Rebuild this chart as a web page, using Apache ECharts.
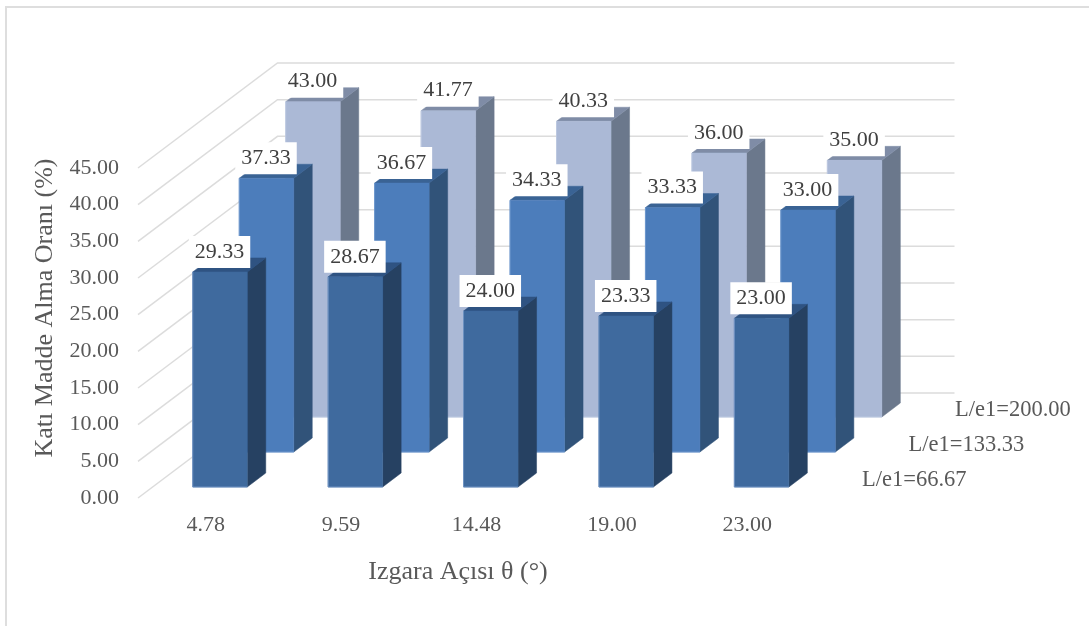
<!DOCTYPE html>
<html>
<head>
<meta charset="utf-8">
<style>html,body{margin:0;padding:0;background:#fff}#chart{width:1089px;height:626px}</style>
<script src="https://cdn.jsdelivr.net/npm/echarts@6/dist/echarts.min.js"></script>
</head>
<body>
<div id="chart"></div>
<script>
// Solid removal ratio by bar-screen angle, one row of columns per L/e1 ratio.
const categories = ['4.78', '9.59', '14.48', '19.00', '23.00'];
const ratioLabels = ['L/e1=66.67', 'L/e1=133.33', 'L/e1=200.00'];
const ratio66 = [29.33, 28.67, 24.00, 23.33, 23.00];
const ratio133 = [37.33, 36.67, 34.33, 33.33, 33.00];
const ratio200 = [43.00, 41.77, 40.33, 36.00, 35.00];
const valueTicks = [0, 5, 10, 15, 20, 25, 30, 35, 40, 45];

// Oblique projection of the depth axis, in pixels.
const SLOT_DX = 46.5, SLOT_DY = 35;
const BAR_W = 54.5, BOX_DX = 18.5, BOX_DY = 14;
const INSET_DX = 14.3, INSET_DY = 11;
const SERIF = '"Liberation Serif", "Times New Roman", serif';

const palettes = [
  { front: '#3f6a9e', side: '#264162', top: '#2f5382', edge: '#6f92c2' },
  { front: '#4c7dbb', side: '#315379', top: '#3a6394', edge: '#6c96cc' },
  { front: '#abb9d6', side: '#6b788c', top: '#7f8ca6', edge: '#bcc8e0' }
];

function column(slot) {
  const colours = palettes[slot];
  return function (params, api) {
    const top = api.coord([api.value(0), api.value(1)]);
    const base = api.coord([api.value(0), 0]);
    const x0 = top[0] - BAR_W / 2 + INSET_DX + slot * SLOT_DX;
    const x1 = x0 + BAR_W;
    const yTop = top[1] - INSET_DY - slot * SLOT_DY;
    const yBase = base[1] - INSET_DY - slot * SLOT_DY;
    const poly = (points, fill) => ({
      type: 'polygon',
      shape: { points },
      style: { fill, stroke: fill, lineWidth: 0.5 }
    });
    return {
      type: 'group',
      children: [
        poly([[x1, yTop], [x1 + BOX_DX, yTop - BOX_DY], [x1 + BOX_DX, yBase - BOX_DY], [x1, yBase]], colours.side),
        poly([[x0, yTop], [x0 + BOX_DX, yTop - BOX_DY], [x1 + BOX_DX, yTop - BOX_DY], [x1, yTop]], colours.top),
        poly([[x0, yTop], [x1, yTop], [x1, yBase], [x0, yBase]], colours.front),
        // Thin highlight along the left and bottom edges of the front face.
        {
          type: 'polyline',
          shape: { points: [[x0, yTop], [x0, yBase], [x1, yBase]] },
          style: { fill: 'none', stroke: colours.edge, lineWidth: 1 }
        }
      ]
    };
  };
}

function valueLabel(slot) {
  return function (params, api) {
    const top = api.coord([api.value(0), api.value(1)]);
    return {
      type: 'text',
      style: {
        text: api.value(1).toFixed(2),
        x: top[0] + INSET_DX + slot * SLOT_DX - 0.5,
        y: top[1] - INSET_DY - slot * SLOT_DY - 20,
        align: 'center',
        verticalAlign: 'middle',
        fontFamily: SERIF,
        fontSize: 22,
        lineHeight: 22,
        fill: '#404040',
        backgroundColor: '#ffffff',
        padding: [7, 6, 3, 6]
      }
    };
  };
}

// Gridlines run back along the side wall, then across the rear wall.
function wallLine(params, api) {
  const p = api.coord([0, api.value(1)]);
  const band = api.size([1, 0])[0];
  const xl = p[0] - band / 2;
  const xb = xl + SLOT_DX * 3;
  const yb = p[1] - SLOT_DY * 3;
  return {
    type: 'polyline',
    shape: { points: [[xl, p[1]], [xb, yb], [xb + band * 5, yb]] },
    style: { fill: 'none', stroke: '#dcdcdc', lineWidth: 1.5 }
  };
}

function ratioLabel(params, api) {
  const slot = api.value(0);
  const p = api.coord([4, 0]);
  const band = api.size([1, 0])[0];
  return {
    type: 'text',
    style: {
      text: ratioLabels[slot],
      x: p[0] + band / 2 + 47 + slot * SLOT_DX,
      y: p[1] - 18 - slot * SLOT_DY,
      align: 'left',
      verticalAlign: 'middle',
      fontFamily: SERIF,
      fontSize: 22.5,
      fill: '#595959'
    }
  };
}

const zipped = values => values.map((v, i) => [i, v]);
const rows = [ratio66, ratio133, ratio200];
const series = [
  { type: 'custom', z: 1, silent: true, renderItem: wallLine, data: valueTicks.map(t => [0, t]) }
];
[2, 1, 0].forEach((slot, order) => {
  series.push({ type: 'custom', z: 2 + order, silent: true, renderItem: column(slot), data: zipped(rows[slot]) });
});
[2, 1, 0].forEach((slot, order) => {
  series.push({ type: 'custom', z: 6 + order, silent: true, renderItem: valueLabel(slot), data: zipped(rows[slot]) });
});
series.push({ type: 'custom', z: 6, silent: true, renderItem: ratioLabel, data: ratioLabels.map((_, i) => [i, 0]) });

const chart = echarts.init(document.getElementById('chart'), null, { renderer: 'canvas' });
chart.setOption({
  animation: false,
  backgroundColor: '#ffffff',
  grid: { left: 138, right: 274, top: 168, bottom: 128, containLabel: false },
  xAxis: {
    type: 'category',
    data: categories,
    axisLine: { show: false },
    axisTick: { show: false },
    axisLabel: { fontFamily: SERIF, fontSize: 22, color: '#595959', margin: 16 },
    name: 'Izgara Açısı θ (°)',
    nameLocation: 'middle',
    nameGap: 61,
    nameTextStyle: { fontFamily: SERIF, fontSize: 26, color: '#595959', padding: [0, 37, 0, 0] }
  },
  yAxis: {
    type: 'value',
    min: 0,
    max: 45,
    interval: 5,
    axisLine: { show: false },
    axisTick: { show: false },
    splitLine: { show: false },
    axisLabel: {
      fontFamily: SERIF, fontSize: 22, color: '#595959', margin: 19,
      padding: [0, 0, 5, 0],
      formatter: v => v.toFixed(2)
    },
    name: 'Katı Madde Alma Oranı (%)',
    nameLocation: 'middle',
    nameGap: 80,
    nameTextStyle: { fontFamily: SERIF, fontSize: 26, color: '#595959', padding: [0, 0, 0, 50] }
  },
  graphic: [
    { type: 'polyline', z: 0, silent: true,
      shape: { points: [[6, 626], [6, 7], [1089, 7]] },
      style: { fill: 'none', stroke: '#dedede', lineWidth: 2 } }
  ],
  series
});
</script>
</body>
</html>
